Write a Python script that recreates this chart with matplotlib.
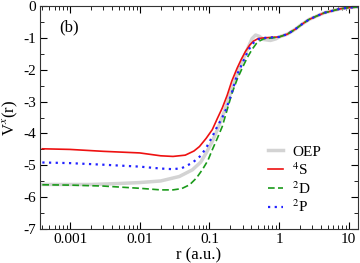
import numpy as np
import matplotlib.pyplot as plt

plt.rcParams['font.family'] = ['Liberation Serif', 'DejaVu Serif']
plt.rcParams['mathtext.fontset'] = 'stix'

# shared large-r tail (all curves coincide there)
r_tail = [1.0, 1.32, 1.7, 2.13, 2.7, 3.5, 4.5, 5.8, 7.4, 10.0, 13.5]
v_tail = [-0.97, -0.88, -0.73, -0.57, -0.42, -0.31, -0.21, -0.15, -0.09, -0.05, -0.03]

# OEP
r_oep = [0.0004, 0.001, 0.002, 0.005, 0.01, 0.02, 0.037, 0.057, 0.075, 0.09, 0.11,
         0.13, 0.164, 0.2, 0.25, 0.305, 0.36, 0.41, 0.46, 0.52, 0.6, 0.75, 0.9] + r_tail
v_oep = [-5.60, -5.60, -5.60, -5.57, -5.54, -5.49, -5.35, -5.14, -4.90, -4.61, -4.25,
         -3.88, -3.30, -2.75, -2.15, -1.67, -1.30, -1.02, -0.91, -0.95, -1.05, -1.08, -1.03] + v_tail

# 4S
r_s = [0.0004, 0.001, 0.003, 0.01, 0.02, 0.03, 0.045, 0.06, 0.072, 0.09, 0.11,
       0.13, 0.153, 0.18, 0.21, 0.25, 0.287, 0.33, 0.38, 0.43, 0.5, 0.6, 0.8] + r_tail
v_s = [-4.48, -4.50, -4.56, -4.61, -4.70, -4.72, -4.68, -4.55, -4.41, -4.15, -3.88,
       -3.53, -3.20, -2.80, -2.35, -1.95, -1.67, -1.42, -1.22, -1.10, -1.02, -1.00, -0.98] + v_tail

# 2D
r_d = [0.0004, 0.001, 0.003, 0.01, 0.02, 0.03, 0.04, 0.052, 0.065, 0.079, 0.095,
       0.11, 0.13, 0.153, 0.18, 0.21, 0.25, 0.30, 0.349, 0.41, 0.47, 0.52, 0.6, 0.8] + r_tail
v_d = [-5.61, -5.62, -5.65, -5.72, -5.77, -5.77, -5.73, -5.61, -5.40, -5.14, -4.85,
       -4.51, -4.15, -3.78, -3.25, -2.75, -2.30, -1.92, -1.62, -1.36, -1.18, -1.10, -1.03, -1.00] + v_tail

# 2P
r_p = [0.0004, 0.001, 0.003, 0.01, 0.02, 0.03, 0.04, 0.057, 0.075, 0.09, 0.11,
       0.125, 0.153, 0.175, 0.21, 0.25, 0.316, 0.36, 0.41, 0.47, 0.55, 0.7] + r_tail
v_p = [-4.91, -4.93, -4.98, -5.04, -5.10, -5.12, -5.09, -4.92, -4.70, -4.45, -4.10,
       -3.85, -3.50, -3.22, -2.72, -2.15, -1.67, -1.40, -1.20, -1.07, -1.01, -0.99] + v_tail

fig = plt.figure(figsize=(3.6, 2.63), dpi=100)
ax = fig.add_axes([0.111, 0.129, 0.883, 0.848])

ax.plot(r_oep, v_oep, color='#d3d3d3', lw=2.5, label='OEP')
ax.plot(r_s, v_s, color='#ee1111', lw=1.2, label='$^4$S')
ax.plot(r_d, v_d, color='#1a9a1a', lw=1.2, ls=(0, (4, 2)), label='$^2$D')
ax.plot(r_p, v_p, color='#2222ff', lw=1.6, ls=(0, (1, 2)), label='$^2$P')

ax.set_xscale('log')
ax.set_xlim(3.7e-4, 13.5)
ax.set_ylim(-7, 0)
ax.set_xticks([0.001, 0.01, 0.1, 1, 10])
ax.set_xticklabels(['0.001', '0.01', '0.1', '1', '10'])
ax.set_yticks(range(-7, 1))
ax.set_yticklabels(['-7', '-6', '-5', '-4', '-3', '-2', '-1', '0'])
ax.set_yticks(np.arange(-6.5, 0, 1), minor=True)
ax.tick_params(which='both', direction='in', top=True, right=True, labelsize=11, pad=3)
ax.tick_params(which='major', length=5)
ax.tick_params(which='minor', length=3)
for s in ax.spines.values():
    s.set_color('#333333')

ax.set_xlabel('r (a.u.)', fontsize=12, labelpad=1)
ax.set_ylabel('V$^x$(r)', fontsize=12, labelpad=2)
ax.text(0.06, 0.905, '(b)', transform=ax.transAxes, fontsize=12, va='center')

ax.legend(loc='upper left', frameon=False, fontsize=11, handlelength=1.0,
          handletextpad=0.6, labelspacing=0.15, borderaxespad=0.0,
          bbox_to_anchor=(0.698, 0.404))

fig.savefig('out.png', dpi=100)
